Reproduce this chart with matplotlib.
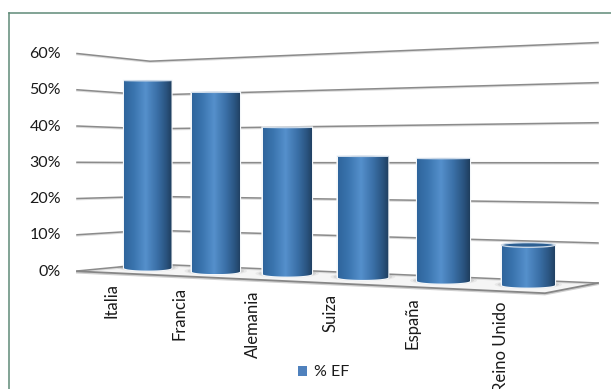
import numpy as np
import matplotlib
matplotlib.use("Agg")
import matplotlib.pyplot as plt
from matplotlib.colors import LinearSegmentedColormap
from matplotlib.patches import Ellipse, PathPatch, Polygon, Rectangle
from matplotlib.path import Path

plt.rcParams["font.family"] = ["Lato", "DejaVu Sans"]

# Chart data
categories = ["Italia", "Francia", "Alemania", "Suiza", "España", "Reino Unido"]
ef_percent = [52.6, 49.5, 39.7, 32.0, 31.8, 10.0]
axis_percent = [0, 10, 20, 30, 40, 50, 60]
series_name = "% EF"

# Perspective layout of the column row, in canvas pixels
bar_left = [124, 191.5, 262.5, 337.5, 417, 501.7]
bar_right = [171.5, 240, 312, 388.3, 470, 555]
bar_floor = [268, 271.5, 274, 277.3, 281, 285]
bar_scale = [3.56, 3.62, 3.69, 3.78, 3.85, 4.0]
label_top = [283, 287, 290, 294, 297, 301]
label_x = [111, 180, 253, 331, 412, 501]

W, H = 611, 389
fig = plt.figure(figsize=(W / 100, H / 100), dpi=100, facecolor="white")
ax = fig.add_axes([0, 0, 1, 1])
ax.axis("off")

# Outer chart frame (open at the canvas edges)
frame = "#5f8a78"
ax.plot([9, 9], [H, 12.6], color=frame, lw=1.1, zorder=1)
ax.plot([9, W], [12.6, 12.6], color=frame, lw=1.1, zorder=1)


def wall_corners(v):
    """Left, corner and right y of a wall gridline at percentage v."""
    return 271 - 3.625 * v, 264 - 3.38 * v, 283 - 4.008 * v


# Floor plate
floor = Polygon([(77, 271), (150, 264), (598, 283), (545, 293)], closed=True,
                facecolor="#f5f5f5", edgecolor="none", zorder=2)
ax.add_patch(floor)

# Wall gridlines with their soft lower highlight
for v in axis_percent:
    ys = np.array(wall_corners(v))
    xs = [77, 150, 598]
    ax.plot(xs, ys + 1.0, color="#dcdcdc", lw=1.2, zorder=2.1)
    ax.plot(xs, ys, color="#8b8b8b", lw=1.1, zorder=2.2)
    ax.text(61, ys[0] + 0.5, f"{v}%", ha="right", va="center",
            fontsize=11.5, color="#1a1a1a")

# Floor front edges
ax.plot([77, 545, 598], [272.6, 294.4, 284.2], color="#d0d0d0", lw=1.4, zorder=2.3)
ax.plot([77, 545, 598], [271.3, 293.2, 283], color="#868686", lw=1.3, zorder=2.4)

# Shading across each cylinder
shade = LinearSegmentedColormap.from_list(
    "cylinder",
    [(0.0, "#2f659c"), (0.2, "#3a74ae"), (0.45, "#5590cc"),
     (0.7, "#3a6fa6"), (0.88, "#2a5480"), (1.0, "#1f3e5e")],
)
gradient = np.linspace(0, 1, 128).reshape(1, -1)

cols = ax.bar(
    [(a + b) / 2 for a, b in zip(bar_left, bar_right)],
    [-v * s for v, s in zip(ef_percent, bar_scale)],
    width=[b - a for a, b in zip(bar_left, bar_right)],
    bottom=bar_floor, color="#3a74ae", zorder=3,
)

for patch, base in zip(cols, bar_floor):
    x0, x1 = patch.get_x(), patch.get_x() + patch.get_width()
    top = base + patch.get_height()
    xc, half = (x0 + x1) / 2, (x1 - x0) / 2

    # Contact shadow on the floor
    for grow, alpha in ((14, 0.08), (8, 0.14), (3, 0.2)):
        ax.add_patch(Ellipse((xc, base - 0.5), 2 * half + grow, 6 + grow * 0.2,
                             facecolor="#555555", edgecolor="none",
                             alpha=alpha, zorder=2.6))

    # Cylinder outline with a rounded base
    t = np.linspace(0, np.pi, 40)
    depth = 2.6
    verts = [(x0, top)] + [(xc - half * np.cos(a), base + depth * np.sin(a)) for a in t] + [(x1, top), (x0, top)]
    outline = Path(verts, closed=True)
    ax.add_patch(PathPatch(outline, facecolor="none", edgecolor="#f4f7fa", lw=1.6, zorder=3.1))
    img = ax.imshow(gradient, extent=(x0, x1, base + depth, top), aspect="auto",
                    cmap=shade, zorder=3.2, interpolation="bilinear")
    img.set_clip_path(PathPatch(outline, transform=ax.transData))

    # Cap of the cylinder, almost flat on the tall columns
    tall = patch.get_height() < -60
    ax.add_patch(Ellipse((xc, top), x1 - x0, 0.8 if tall else 4.6,
                         facecolor="#3f78b0" if tall else "#2c5f92",
                         edgecolor="#cfdcea", lw=0.5 if tall else 0.9, zorder=3.3))

for name, x, y in zip(categories, label_x, label_top):
    ax.text(x, y, name, rotation=90, ha="center", va="top",
            fontsize=12, color="#1a1a1a", clip_on=True)

# Legend
handle = Rectangle((0, 0), 1, 1, facecolor="#4f81bd", edgecolor="none")
ax.legend([handle], [series_name], loc="center", bbox_to_anchor=(323.5, 372.5),
          bbox_transform=ax.transData, frameon=False, fontsize=11.5,
          handlelength=0.6, handleheight=0.6, handletextpad=0.4,
          labelcolor="#1a1a1a", borderpad=0)

ax.set_xlim(0, W)
ax.set_ylim(H, 0)

fig.savefig("out.png", dpi=100, facecolor="white")
